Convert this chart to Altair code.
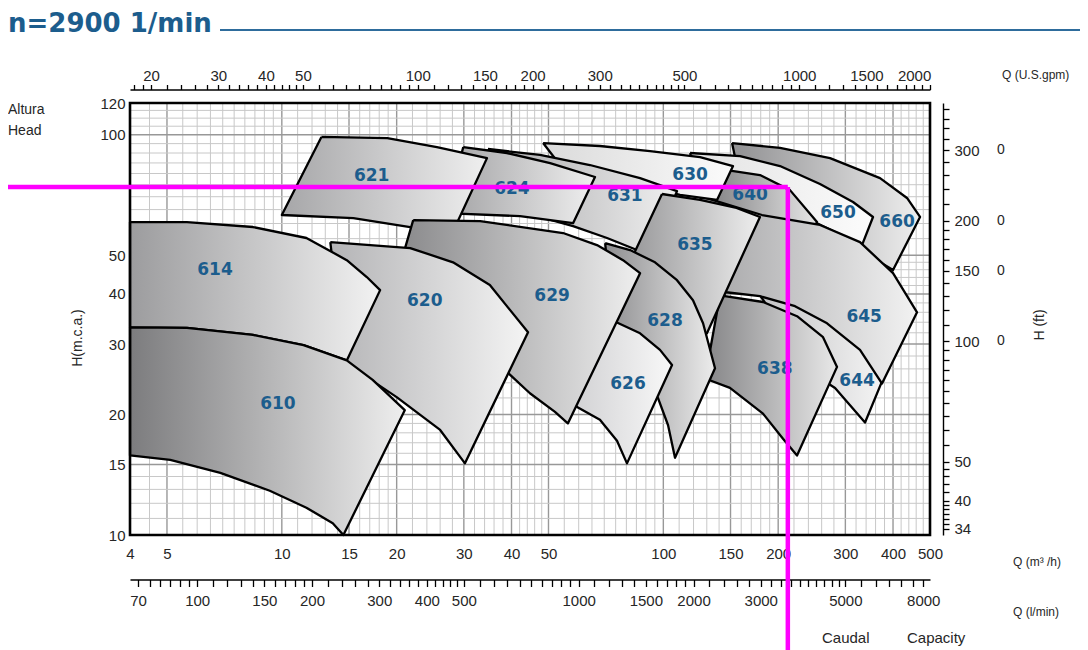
import altair as alt
import pandas as pd

# ---------------- data (Q in m3/h, H in m) ----------------
# each pump field: upper curve and lower curve, both listed left -> right
r610_top = [(4, 33.0), (5.64, 32.9), (8.4, 31.6), (11.4, 29.8), (14.8, 27.3), (17.3, 24.4), (21.0, 20.5)]
r610_bot = [(4, 15.8), (5.1, 15.4), (6.9, 14.3), (9.3, 12.9), (11.6, 11.7), (13.6, 10.7), (14.5, 10.0)]
r614_top = [(4, 60.5), (5.64, 60.5), (8.4, 58.8), (11.6, 55.2), (14.8, 48.6), (16.7, 44.1), (18.1, 40.9)]
r614_bot = [(4, 33.0), (5.64, 32.9), (8.4, 31.6), (11.4, 29.8), (14.8, 27.3)]
r620_top = [(13.4, 53.9), (21.7, 52.1), (28.1, 48.0), (35.1, 42.1), (44.2, 32.1)]
r620_bot = [(14.6, 27.0), (20.0, 22.1), (26.0, 18.3), (30.2, 15.1)]
r621_top = [(12.7, 98.7), (18.9, 98.1), (25.5, 93.1), (34.5, 87.4)]
r621_bot = [(10.0, 63.0), (15.4, 61.9), (21.7, 58.8), (27.6, 55.2)]
r624_top = [(29.9, 93.1), (38.9, 90.0), (50.5, 84.9), (66.2, 78.4)]
r624_bot = [(26.8, 63.7), (42.1, 62.6), (58.0, 60.1)]
r626_top = [(73.4, 34.4), (86.9, 31.9), (98.0, 29.0), (105.4, 26.6)]
r626_bot = [(58.3, 21.1), (68.2, 19.4), (75.6, 17.2), (80.3, 15.1)]
r628_top = [(70.4, 53.6), (81.8, 51.5), (95.1, 48.0), (108.6, 43.3), (119.6, 38.6), (127.1, 33.8), (136.6, 26.1)]
r628_bot = [(74.7, 29.0), (86.9, 25.1), (96.8, 22.0), (102.9, 18.8), (107.3, 15.6)]
r629_top = [(22.1, 61.2), (33.1, 60.8), (54.6, 56.8), (67.0, 53.0), (78.4, 48.6), (86.9, 45.1)]
r629_bot = [(19.2, 38.6), (29.3, 31.6), (38.5, 25.8), (44.7, 22.6), (52.0, 20.3), (56.2, 19.0)]
r630_top = [(48.4, 95.3), (68.2, 93.7), (92.3, 91.0), (124.8, 87.9), (152.3, 83.5)]
r630_bot = [(53.6, 84.0), (68.2, 79.3), (86.9, 74.9), (110.6, 70.7), (138.3, 68.7)]
r631_top = [(34.7, 92.1), (47.5, 89.0), (64.2, 84.0), (86.9, 77.9), (108.6, 72.3)]
r631_bot = [(44.7, 63.3), (58.0, 59.1), (71.2, 55.2), (92.3, 50.0)]
r635_top = [(99.2, 71.1), (124.8, 68.7), (155.5, 65.6), (179.2, 62.3)]
r635_bot = [(73.4, 38.6), (81.8, 37.5), (104.1, 34.8), (130.1, 31.9)]
r638_top = [(140.8, 39.7), (182.5, 38.2), (224.1, 35.2), (262.2, 31.2), (285.3, 26.3)]
r638_bot = [(128.6, 24.6), (149.5, 23.3), (182.5, 20.1), (205.9, 17.4), (224.1, 15.8)]
r640_top = [(134.2, 82.6), (179.2, 79.3), (214.8, 72.7), (252.8, 60.5)]
r640_bot = [(128.6, 54.5), (158.9, 51.5), (214.8, 45.9)]
r644_top = [(179.2, 39.7), (221.4, 37.7), (268.6, 34.4), (327.7, 29.5), (374.3, 24.2)]
r644_bot = [(249.8, 25.1), (281.9, 23.3), (308.6, 21.1), (337.8, 19.1)]
r645_top = [(124.8, 70.2), (181.4, 63.0), (257.4, 59.5), (327.7, 53.9), (400.0, 45.1), (462.4, 36.0)]
r645_bot = [(146.0, 40.4), (179.2, 39.5), (221.4, 37.3), (268.6, 33.8), (327.7, 29.0), (374.3, 23.9)]
r650_top = [(117.5, 90.0), (158.9, 88.4), (202.2, 83.5), (257.4, 75.3), (314.2, 67.9), (354.5, 62.3)]
r650_bot = [(124.8, 71.9), (158.9, 69.5), (202.2, 65.6), (252.8, 60.1), (331.7, 53.0)]
r660_top = [(151.4, 95.3), (202.2, 92.7), (273.5, 87.4), (369.8, 77.9), (435.2, 69.5), (470.8, 62.3)]
r660_bot = [(163.7, 66.7), (202.2, 63.0), (257.4, 57.1), (327.7, 51.5), (400.0, 45.9)]

label_text = ["610", "614", "620", "621", "624", "626", "628", "629", "630",
              "631", "635", "638", "640", "644", "645", "650", "660"]
label_q = [9.77, 6.68, 23.7, 17.2, 40.1, 80.8, 101, 51.1, 117.5,
           79.3, 121, 196, 168.8, 322, 336, 287, 410]
label_h = [21.3, 45.9, 38.4, 78.9, 73.1, 23.9, 34.2, 39.5, 79.3,
           70.2, 53.0, 26.0, 70.7, 24.2, 35.0, 63.7, 60.5]

duty_q = [212]
duty_h = [74]

x_domain = [4, 500]
y_domain = [10, 120]
q_labels = [4, 5, 10, 15, 20, 30, 40, 50, 100, 150, 200, 300, 400, 500]
h_labels = [10, 15, 20, 30, 40, 50, 100, 120]

grid_q_minor = [4.5, 5.5, 6, 6.5, 7, 7.5, 8, 8.5, 9, 9.5, 11, 12, 13, 14, 16, 17, 18, 19,
                22, 24, 26, 28, 32, 34, 36, 38, 42, 44, 46, 48, 55, 60, 65, 70, 75, 80, 85, 90, 95,
                110, 120, 130, 140, 160, 170, 180, 190, 220, 240, 260, 280, 320, 340, 360, 380, 420, 440, 460, 480]
grid_q_major = [5, 10, 15, 20, 30, 40, 50, 100, 150, 200, 300, 400]
grid_h_minor = [11, 12, 13, 14, 16, 17, 18, 19, 22, 24, 26, 28, 32, 34, 36, 38, 42, 44, 46, 48,
                55, 60, 65, 70, 75, 80, 85, 90, 95, 105, 110, 115]
grid_h_major = [15, 20, 30, 40, 50, 100]

gpm_domain = [17.6115, 2201.44]
gpm_labels = [20, 30, 40, 50, 100, 150, 200, 300, 500, 1000, 1500, 2000]
gpm_ticks = [18, 19, 20, 22, 24, 26, 28, 30, 32, 34, 36, 38, 40, 42, 44, 46, 48, 50,
             55, 60, 65, 70, 75, 80, 85, 90, 95, 100, 110, 120, 130, 140, 150, 160, 170, 180, 190, 200,
             220, 240, 260, 280, 300, 320, 340, 360, 380, 400, 420, 440, 460, 480, 500,
             550, 600, 650, 700, 750, 800, 850, 900, 950, 1000, 1100, 1200, 1300, 1400, 1500,
             1600, 1700, 1800, 1900, 2000, 2100, 2200]

lmin_domain = [66.667, 8333.33]
lmin_labels = [70, 100, 150, 200, 300, 400, 500, 1000, 1500, 2000, 3000, 5000, 8000]
lmin_ticks = [70, 75, 80, 85, 90, 95, 100, 110, 120, 130, 140, 150, 160, 170, 180, 190, 200,
              220, 240, 260, 280, 300, 320, 340, 360, 380, 400, 420, 440, 460, 480, 500,
              550, 600, 650, 700, 750, 800, 850, 900, 950, 1000, 1100, 1200, 1300, 1400, 1500,
              1600, 1700, 1800, 1900, 2000, 2200, 2400, 2600, 2800, 3000, 3200, 3400, 3600, 3800,
              4000, 4200, 4400, 4600, 4800, 5000, 5500, 6000, 6500, 7000, 7500, 8000]

ft_domain = [32.8084, 393.701]
ft_labels = [34, 40, 50, 100, 150, 200, 300]
ft_ticks = [34, 35, 36, 37, 38, 39, 40, 42, 44, 46, 48, 50, 55, 60, 65, 70, 75, 80, 85, 90, 95,
            100, 110, 120, 130, 140, 150, 160, 170, 180, 190, 200, 220, 240, 260, 280, 300,
            320, 340, 360, 380]
ft_zero_marks = [300, 200, 150, 100]

# ---------------- styling ----------------
shapes = {
    "610": (r610_top, r610_bot), "614": (r614_top, r614_bot), "620": (r620_top, r620_bot),
    "621": (r621_top, r621_bot), "624": (r624_top, r624_bot), "626": (r626_top, r626_bot),
    "628": (r628_top, r628_bot), "629": (r629_top, r629_bot), "630": (r630_top, r630_bot),
    "631": (r631_top, r631_bot), "635": (r635_top, r635_bot), "638": (r638_top, r638_bot),
    "640": (r640_top, r640_bot), "644": (r644_top, r644_bot), "645": (r645_top, r645_bot),
    "650": (r650_top, r650_bot), "660": (r660_top, r660_bot),
}
shade = {
    "610": ("#7c7c7e", "#eeeeee"), "614": ("#9c9c9e", "#f2f2f2"), "620": ("#b4b4b6", "#f4f4f4"),
    "621": ("#a6a6a8", "#efefef"), "624": ("#a2a2a4", "#efefef"), "626": ("#d2d2d4", "#f8f8f8"),
    "628": ("#8e8e90", "#ececec"), "629": ("#858587", "#efefef"), "630": ("#dadada", "#fbfbfb"),
    "631": ("#a8a8aa", "#f0f0f0"), "635": ("#8c8c8e", "#eeeeee"), "638": ("#858587", "#e8e8e8"),
    "640": ("#7e7e80", "#e6e6e6"), "644": ("#c2c2c4", "#f4f4f4"), "645": ("#a4a4a6", "#f2f2f2"),
    "650": ("#e2e2e2", "#fcfcfc"), "660": ("#909092", "#eeeeee"),
}
z_order = ["660", "650", "640", "644", "645", "638", "630", "631", "635",
           "628", "626", "624", "621", "629", "620", "614", "610"]

AX_FONT = "Liberation Sans"
TXT = "#262626"
BLUE = "#1c5d8d"

xs = alt.Scale(type="log", domain=x_domain, nice=False)
ys = alt.Scale(type="log", domain=y_domain, nice=False)


def label_expr(vals):
    return "indexof([" + ",".join(str(v) for v in vals) + "], datum.value) >= 0 ? '' + datum.value : ''"


axis_x = alt.Axis(values=q_labels, labelExpr="'' + datum.value", ticks=False, domain=False, grid=False,
                  labelFont=AX_FONT, labelFontSize=15, labelColor=TXT, labelPadding=11,
                  labelFlush=False, labelOverlap=False, title=None)
axis_y = alt.Axis(values=h_labels, labelExpr="'' + datum.value", ticks=False, domain=False, grid=False,
                  labelFont=AX_FONT, labelFontSize=15, labelColor=TXT, labelPadding=5,
                  labelFlush=False, labelOverlap=False, title=None)


def X(field):
    return alt.X(field, scale=xs, axis=axis_x, title=None)


def Y(field):
    return alt.Y(field, scale=ys, axis=axis_y, title=None)


# grid
gx_min = alt.Chart(pd.DataFrame({"v": grid_q_minor})).mark_rule(color="#c8c8c8", strokeWidth=1).encode(
    x=X("v:Q"))
gx_maj = alt.Chart(pd.DataFrame({"v": grid_q_major})).mark_rule(color="#989898", strokeWidth=1.4).encode(
    x=X("v:Q"))
gy_min = alt.Chart(pd.DataFrame({"v": grid_h_minor})).mark_rule(color="#c8c8c8", strokeWidth=1).encode(
    y=Y("v:Q"))
gy_maj = alt.Chart(pd.DataFrame({"v": grid_h_major})).mark_rule(color="#989898", strokeWidth=1.4).encode(
    y=Y("v:Q"))

# pump fields
field_layers = []
for name in z_order:
    top, bot = shapes[name]
    pts = list(top) + list(reversed(bot)) + [top[0]]
    df = pd.DataFrame({"q": [p[0] for p in pts], "h": [p[1] for p in pts], "i": list(range(len(pts)))})
    c1, c2 = shade[name]
    grad = alt.LinearGradient(gradient="linear", x1=0, x2=1, y1=0, y2=0,
                              stops=[alt.GradientStop(color=c1, offset=0),
                                     alt.GradientStop(color=c2, offset=1)])
    field_layers.append(
        alt.Chart(df).mark_line(fill=grad, stroke="black", strokeWidth=2.3, strokeJoin="round")
        .encode(x=X("q:Q"), y=Y("h:Q"), order=alt.Order("i:Q"))
    )

labels = alt.Chart(pd.DataFrame({"t": label_text, "q": label_q, "h": label_h})).mark_text(
    font="DejaVu Sans", fontWeight="bold", fontSize=17, color=BLUE).encode(
    x=X("q:Q"), y=Y("h:Q"), text="t:N")

frame = alt.Chart(pd.DataFrame({"q0": [x_domain[0]], "q1": [x_domain[1]],
                                "h0": [y_domain[0]], "h1": [y_domain[1]]})).mark_rect(
    fillOpacity=0, stroke="black", strokeWidth=2.6).encode(
    x=X("q0:Q"), x2="q1:Q", y=Y("h0:Q"), y2="h1:Q")

duty = pd.DataFrame({"q": duty_q, "h": duty_h})
hline = alt.Chart(duty).mark_rule(color="#ff00ff", strokeWidth=4.5).encode(
    x=X("q:Q"), x2=alt.value(-125), y=Y("h:Q"))
vline = alt.Chart(duty).mark_rule(color="#ff00ff", strokeWidth=4.5).encode(
    x=X("q:Q"), y=Y("h:Q"), y2=alt.value(560))


def note(txt, x, y, size=14, align="left", angle=0, font=AX_FONT, weight="normal", color=TXT):
    return alt.Chart(pd.DataFrame({"t": [txt]})).mark_text(
        x=x, y=y, align=align, baseline="middle", angle=angle, font=font, fontSize=size,
        fontWeight=weight, color=color).encode(text="t:N")


title = alt.Chart(pd.DataFrame({"t": ["n=2900 1/min"]})).mark_text(
    x=-122, y=-71.5, align="left", baseline="alphabetic", font="DejaVu Sans", fontWeight="bold",
    fontSize=26, color=BLUE).encode(text="t:N")
title_line = alt.Chart(pd.DataFrame({"t": [0]})).mark_rule(color="#2e6c9c", strokeWidth=2).encode(
    x=alt.value(90), x2=alt.value(960), y=alt.value(-73))

notes = [
    note("Altura", -122, 7, 14),
    note("Head", -122, 28, 14),
    note("H(m.c.a.)", -52, 235, 14, align="center", angle=270),
    note("H (ft)", 910, 222, 14, align="center", angle=270),
    note("Q (U.S.gpm)", 872, -28, 12),
    note("Q (m³ /h)", 883, 459, 12),
    note("Q (l/min)", 883, 509, 12),
    note("Caudal", 692, 535, 15),
    note("Capacity", 777, 535, 15),
]

main = alt.layer(gx_min, gx_maj, gy_min, gy_maj, *field_layers, labels, frame, hline, vline,
                 title, title_line, *notes)

# secondary axes
gpm_layer = alt.Chart(pd.DataFrame({"g": gpm_ticks})).mark_point(opacity=0).encode(
    x=alt.X("g:Q", scale=alt.Scale(type="log", domain=gpm_domain, nice=False),
            axis=alt.Axis(orient="top", offset=13.5, values=gpm_ticks, labelExpr=label_expr(gpm_labels),
                          tickSize=5, tickColor="black", tickWidth=1.3, domainColor="black", domainWidth=1.4,
                          labelFont=AX_FONT, labelFontSize=15, labelColor=TXT, labelPadding=1,
                          labelFlush=False, labelOverlap=False, grid=False, title=None)))

lmin_layer = alt.Chart(pd.DataFrame({"l": lmin_ticks})).mark_point(opacity=0).encode(
    x=alt.X("l:Q", scale=alt.Scale(type="log", domain=lmin_domain, nice=False),
            axis=alt.Axis(orient="bottom", offset=44.5, values=lmin_ticks, labelExpr=label_expr(lmin_labels),
                          tickSize=7, tickColor="black", tickWidth=1.3, domainColor="black", domainWidth=1.4,
                          labelFont=AX_FONT, labelFontSize=15, labelColor=TXT, labelPadding=7,
                          labelFlush=False, labelOverlap=False, grid=False, title=None)))

ft_layer = alt.Chart(pd.DataFrame({"f": ft_zero_marks, "z": ["0"] * len(ft_zero_marks)})).mark_text(
    font=AX_FONT, fontSize=14, color=TXT, align="center").encode(
    x=alt.value(871),
    y=alt.Y("f:Q", scale=alt.Scale(type="log", domain=ft_domain, nice=False),
            axis=alt.Axis(orient="right", offset=13, values=ft_ticks, labelExpr=label_expr(ft_labels),
                          tickSize=6, tickColor="black", tickWidth=1.3, domainColor="black", domainWidth=1.4,
                          labelFont=AX_FONT, labelFontSize=15, labelColor=TXT, labelPadding=5,
                          labelFlush=False, labelOverlap=False, grid=False, title=None)),
    text="z:N")

chart = alt.layer(main, gpm_layer, lmin_layer, ft_layer).resolve_scale(
    x="independent", y="independent").properties(
    width=800, height=432,
    autosize=alt.AutoSizeParams(type="none"),
    padding={"left": 122, "top": 95, "right": 150, "bottom": 115},
    background="white",
).configure_view(strokeWidth=0)

chart.save("out.html", embed_options={"renderer": "svg", "actions": False})
